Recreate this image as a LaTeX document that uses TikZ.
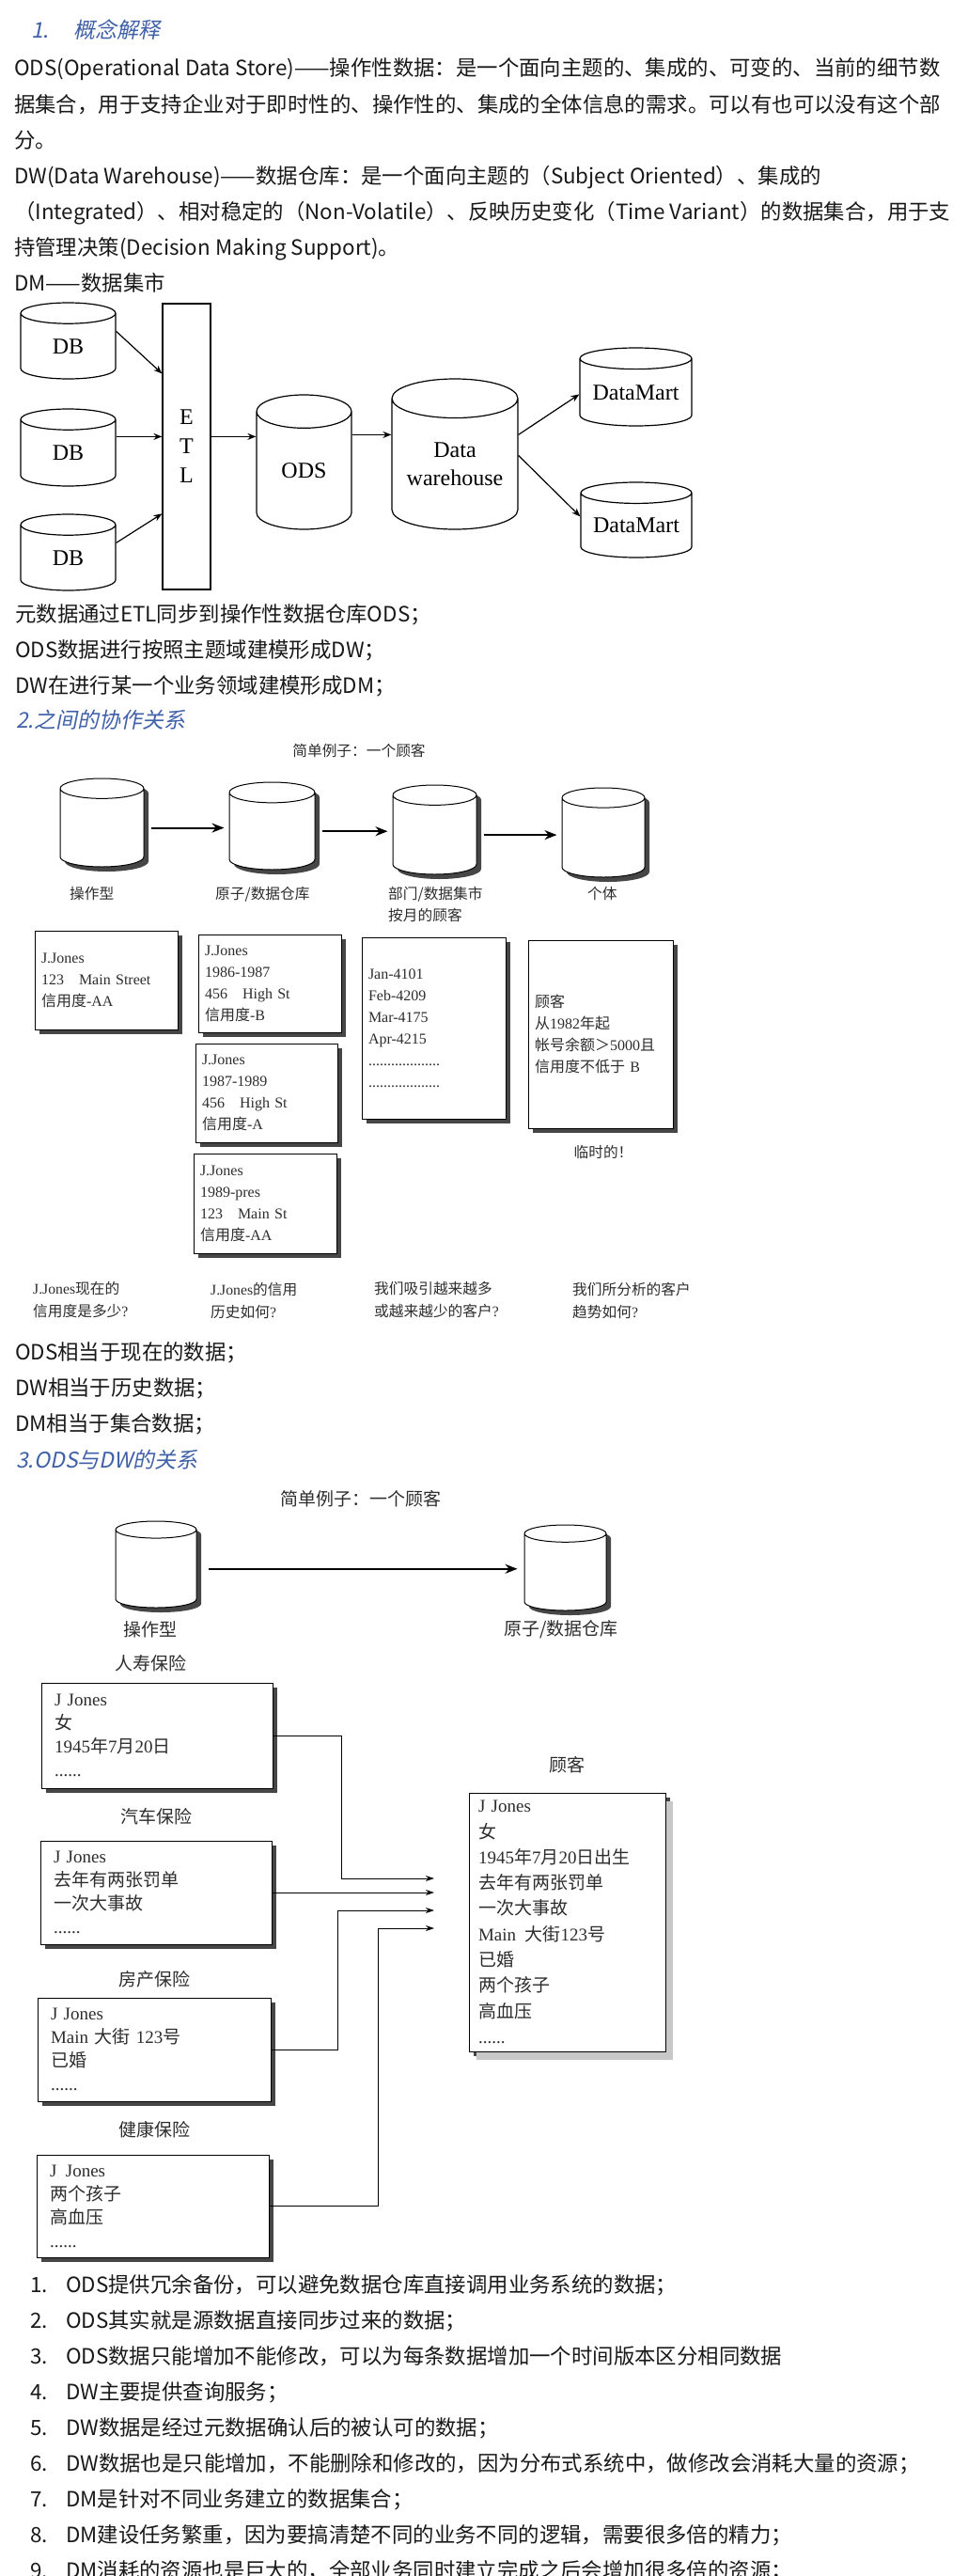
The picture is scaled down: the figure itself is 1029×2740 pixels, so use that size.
\documentclass[tikz,border=0pt]{standalone}
\usepackage{fontspec}
\setmainfont{Noto Sans CJK SC}
\newfontfamily\headfont[FakeSlant=0.2]{Noto Sans CJK SC}
\newfontfamily\dgfont{Liberation Serif}
\newfontfamily\zhfont{Noto Sans CJK SC}
\usetikzlibrary{shapes.geometric, arrows.meta, shadows, positioning}
\definecolor{headblue}{RGB}{64,96,168}
\definecolor{ink}{RGB}{25,25,25}
\definecolor{dgink}{RGB}{45,45,45}
\definecolor{dgshade}{RGB}{70,70,70}
\definecolor{lightshade}{RGB}{200,200,200}
\newcommand{\zh}[1]{{\zhfont #1}}

\begin{document}
\begin{tikzpicture}[x=1pt, y=-1pt, node distance=15.7pt]

\tikzstyle{txt}      =[anchor=west, inner sep=0pt, text=ink, text height=17pt, text depth=5pt, font=\fontsize{22.4}{26}\selectfont]
\tikzstyle{head}     =[txt, text=headblue, font=\headfont\fontsize{23}{26}\selectfont]
\tikzstyle{cyl}      =[cylinder, shape border rotate=90, draw, line width=1.2pt, fill=white, inner sep=0pt, align=center, anchor=shape center, font=\dgfont\fontsize{24}{30}\selectfont]
\tikzstyle{etlbox}   =[rectangle, draw, line width=1.2pt, inner sep=0pt, align=center, font=\dgfont\fontsize{24}{29}\selectfont]
\tikzstyle{flow}     =[line width=1.2pt, -{Stealth[length=9pt, width=7pt]}]
\tikzstyle{dshade}   =[drop shadow={shadow xshift=5pt, shadow yshift=-5pt, fill=dgshade, opacity=1}]
\tikzstyle{scyl}     =[cyl, dshade, line width=1pt]
\tikzstyle{lab}      =[inner sep=0pt, text=dgink, font=\zhfont\fontsize{15.7}{24}\selectfont]
\tikzstyle{ask}      =[lab, anchor=west, align=left, font=\dgfont\fontsize{15.7}{24}\selectfont]
\tikzstyle{card}     =[rectangle, draw, line width=1pt, fill=white, dshade, inner sep=7pt, align=left, text=dgink, font=\dgfont\fontsize{16}{23}\selectfont]
\tikzstyle{bigarrow} =[line width=2pt, -{Stealth[length=13pt, width=10pt]}]
\tikzstyle{lab3}     =[lab, font=\zhfont\fontsize{19}{25}\selectfont]
\tikzstyle{ins}      =[card, inner xsep=14pt, font=\dgfont\fontsize{19}{25}\selectfont]
\tikzstyle{custbox}  =[ins, inner xsep=10pt, drop shadow={shadow xshift=8pt, shadow yshift=-9pt, fill=lightshade, opacity=1}, font=\dgfont\fontsize{19}{27.3}\selectfont]
\tikzstyle{link}     =[line width=1pt, -{Stealth[length=9pt, width=6pt]}]

\useasboundingbox (0,0) rectangle (1029,2740);
\fill[white] (0,0) rectangle (1029,2740);

% 1. concepts
\node[head] (h1) at (33,35) {1.\hspace{26pt}概念解释};
\node[txt] (p1) at (15,75) {ODS(Operational Data Store)——操作性数据：是一个面向主题的、集成的、可变的、当前的细节数};
\node[txt, below=of p1.south west, anchor=north west] (p2) {据集合，用于支持企业对于即时性的、操作性的、集成的全体信息的需求。可以有也可以没有这个部};
\node[txt, below=of p2.south west, anchor=north west] (p3) {分。};
\node[txt, below=of p3.south west, anchor=north west] (p4) {DW(Data Warehouse)——数据仓库：是一个面向主题的（Subject Oriented）、集成的};
\node[txt, below=of p4.south west, anchor=north west] (p5) {（Integrated）、相对稳定的（Non-Volatile）、反映历史变化（Time Variant）的数据集合，用于支};
\node[txt, below=of p5.south west, anchor=north west] (p6) {持管理决策(Decision Making Support)。};
\node[txt, below=of p6.south west, anchor=north west] (p7) {DM——数据集市};

% ETL chain
\node[cyl, text width=101pt, minimum height=81pt, aspect=0.22] (db1) at (72.5,362.5) {DB};
\node[cyl, text width=101pt, minimum height=82pt, aspect=0.22] (db2) at (72.5,476) {DB};
\node[cyl, text width=101pt, minimum height=81pt, aspect=0.22] (db3) at (72.5,587.5) {DB};
\node[etlbox, minimum width=51pt, minimum height=304pt] (etl) at (198.5,475) {E\\[2pt]T\\[2pt]L};
\node[cyl, text width=101pt, minimum height=143pt, aspect=0.35] (ods) at (323.5,491.5) {ODS};
\node[cyl, text width=134pt, minimum height=160pt, aspect=0.31] (dw) at (484,483) {Data\\warehouse};
\node[cyl, text width=119pt, minimum height=83pt, aspect=0.19] (dm1) at (676.5,411.5) {DataMart};
\node[cyl, text width=118pt, minimum height=80pt, aspect=0.19] (dm2) at (677,553) {DataMart};

\draw[flow] ([yshift=-30pt]etl.north west -| db1.east) -- ([yshift=-75pt]etl.north west);
\draw[flow] ([yshift=-142pt]etl.north west -| db2.east) -- ([yshift=-142pt]etl.north west);
\draw[flow] ([yshift=-255pt]etl.north west -| db3.east) -- ([yshift=-224pt]etl.north west);
\draw[flow] ([yshift=-142pt]etl.north east) -- ([yshift=-142pt]etl.north east -| ods.west);
\draw[flow] ([yshift=-140pt]etl.north east -| ods.east) -- ([yshift=-140pt]etl.north east -| dw.west);
\draw[flow] ([yshift=-140pt]etl.north east -| dw.east) -- ([yshift=-97pt]etl.north east -| dm1.west);
\draw[flow] ([yshift=-162pt]etl.north east -| dw.east) -- ([yshift=-227pt]etl.north east -| dm2.west);

\node[txt] (s1) at (16,655) {元数据通过ETL同步到操作性数据仓库ODS；};
\node[txt, below=of s1.south west, anchor=north west] (s2) {ODS数据进行按照主题域建模形成DW；};
\node[txt, below=of s2.south west, anchor=north west] (s3) {DW在进行某一个业务领域建模形成DM；};

% 2. cooperation
\node[head] (h2) at (17,768) {2.之间的协作关系};
\node[lab] (t2) at (382,798) {简单例子：一个顾客};

\node[scyl, text width=89pt, minimum height=94pt, aspect=0.24] (op) at (108.5,875) {};
\node[scyl, text width=91pt, minimum height=93pt, aspect=0.24] (ws) at (289.5,878.5) {};
\node[scyl, text width=89pt, minimum height=95pt, aspect=0.24] (dept) at (462.5,882.5) {};
\node[scyl, text width=88pt, minimum height=95pt, aspect=0.24] (indiv) at (642,885.5) {};

\draw[bigarrow] ([xshift=7pt]op.east) -- ([xshift=-5pt]op.east -| ws.west);
\draw[bigarrow] ([xshift=7pt]ws.east) -- ([xshift=-5pt]ws.east -| dept.west);
\draw[bigarrow] ([xshift=7pt]dept.east) -- ([xshift=-5pt]dept.east -| indiv.west);

\node[lab, anchor=west] (l1) at (74,951) {操作型};
\node[lab, anchor=west] (l2) at (229,951) {原子/数据仓库};
\node[lab, anchor=west] (l3) at (413,951) {部门/数据集市};
\node[lab, anchor=west] (l3b) at (413,973) {按月的顾客};
\node[lab, anchor=west] (l4) at (625,951) {个体};

\node[card, text width=138pt, minimum height=105pt] (now) at (113,1042.5) {J.Jones\\123\quad Main Street\\\zh{信用度}-AA};
\node[card, text width=138pt, minimum height=104pt] (hist1) at (287,1046) {J.Jones\\1986-1987\\456\quad High St\\\zh{信用度}-B};
\node[card, text width=137pt, minimum height=105pt] (hist2) at (283.5,1162.5) {J.Jones\\1987-1989\\456\quad High St\\\zh{信用度}-A};
\node[card, text width=138pt, minimum height=106pt] (hist3) at (282,1280) {J.Jones\\1989-pres\\123\quad Main St\\\zh{信用度}-AA};
\node[card, text width=139pt, minimum height=193pt] (month) at (461.5,1093.5) {Jan-4101\\Feb-4209\\Mar-4175\\Apr-4215\\...................\\...................};
\node[card, text width=140pt, minimum height=200pt] (temp) at (639,1100) {\zh{顾客}\\\zh{从}1982\zh{年起}\\\zh{帐号余额＞}5000\zh{且}\\\zh{信用度不低于} B\\[46pt]};
\node[lab] (tmp) at (642,1225) {临时的！};

\node[ask] (q1) at (35,1383) {J.Jones\zh{现在的}\\\zh{信用度是多少}?};
\node[ask] (q2) at (224,1383) {J.Jones\zh{的信用}\\\zh{历史如何}?};
\node[ask] (q3) at (398,1383) {\zh{我们吸引越来越多}\\\zh{或越来越少的客户}?};
\node[ask] (q4) at (609,1383) {\zh{我们所分析的客户}\\\zh{趋势如何}?};

\node[txt] (r1) at (16,1440) {ODS相当于现在的数据；};
\node[txt, below=of r1.south west, anchor=north west] (r2) {DW相当于历史数据；};
\node[txt, below=of r2.south west, anchor=north west] (r3) {DM相当于集合数据；};

% 3. ODS and DW
\node[head] (h3) at (17,1555) {3.ODS与DW的关系};
\node[lab3] (t3) at (384,1594) {简单例子：一个顾客};

\node[scyl, text width=86pt, minimum height=92pt, aspect=0.21] (opr) at (166,1664) {};
\node[scyl, text width=87pt, minimum height=91pt, aspect=0.21] (atom) at (601.5,1667.5) {};
\draw[bigarrow, line width=1.8pt] ([xshift=12pt]opr.east) -- ([xshift=-7pt]opr.east -| atom.west);
\node[lab3] (m1) at (160,1733) {操作型};
\node[lab3] (m2) at (597,1733) {原子/数据仓库};

\node[lab3] (k1) at (160,1769) {人寿保险};
\node[ins, text width=218pt, minimum height=112pt] (life) at (167,1846) {J Jones\\\zh{女}\\1945\zh{年}7\zh{月}20\zh{日}\\......};
\node[lab3] (k2) at (166,1932) {汽车保险};
\node[ins, text width=218pt, minimum height=110pt] (car) at (166,2013) {J Jones\\\zh{去年有两张罚单}\\\zh{一次大事故}\\......};
\node[lab3] (k3) at (164,2105) {房产保险};
\node[ins, text width=220pt, minimum height=110pt] (house) at (164,2180) {J Jones\\Main \zh{大街} 123\zh{号}\\\zh{已婚}\\......};
\node[lab3] (k4) at (164,2265) {健康保险};
\node[ins, text width=219pt, minimum height=109pt] (health) at (162.5,2346.5) {J\enspace Jones\\\zh{两个孩子}\\\zh{高血压}\\......};

\node[lab3] (k5) at (603,1877) {顾客};
\node[custbox, text width=189pt, minimum height=275pt] (cust) at (603.5,2044.5) {J Jones\\\zh{女}\\1945\zh{年}7\zh{月}20\zh{日出生}\\\zh{去年有两张罚单}\\\zh{一次大事故}\\Main\enspace\zh{大街}123\zh{号}\\\zh{已婚}\\\zh{两个孩子}\\\zh{高血压}\\......};

\coordinate (in1) at (462,1998);
\coordinate (in2) at (462,2013);
\coordinate (in3) at (462,2032);
\coordinate (in4) at (462,2051);
\draw[link] (life.east) -- ++(73,0) |- (in1);
\draw[link] (car.east) -- (in2);
\draw[link] (house.east) -- ++(71,0) |- (in3);
\draw[link] (health.east) -- ++(116,0) |- (in4);

% summary list
\node[txt] (i1) at (32,2432) {\makebox[38pt][l]{1.}ODS提供冗余备份，可以避免数据仓库直接调用业务系统的数据；};
\node[txt, below=of i1.south west, anchor=north west] (i2) {\makebox[38pt][l]{2.}ODS其实就是源数据直接同步过来的数据；};
\node[txt, below=of i2.south west, anchor=north west] (i3) {\makebox[38pt][l]{3.}ODS数据只能增加不能修改，可以为每条数据增加一个时间版本区分相同数据};
\node[txt, below=of i3.south west, anchor=north west] (i4) {\makebox[38pt][l]{4.}DW主要提供查询服务；};
\node[txt, below=of i4.south west, anchor=north west] (i5) {\makebox[38pt][l]{5.}DW数据是经过元数据确认后的被认可的数据；};
\node[txt, below=of i5.south west, anchor=north west] (i6) {\makebox[38pt][l]{6.}DW数据也是只能增加，不能删除和修改的，因为分布式系统中，做修改会消耗大量的资源；};
\node[txt, below=of i6.south west, anchor=north west] (i7) {\makebox[38pt][l]{7.}DM是针对不同业务建立的数据集合；};
\node[txt, below=of i7.south west, anchor=north west] (i8) {\makebox[38pt][l]{8.}DM建设任务繁重，因为要搞清楚不同的业务不同的逻辑，需要很多倍的精力；};
\node[txt, below=of i8.south west, anchor=north west] (i9) {\makebox[38pt][l]{9.}DM消耗的资源也是巨大的，全部业务同时建立完成之后会增加很多倍的资源；};

\end{tikzpicture}
\end{document}
